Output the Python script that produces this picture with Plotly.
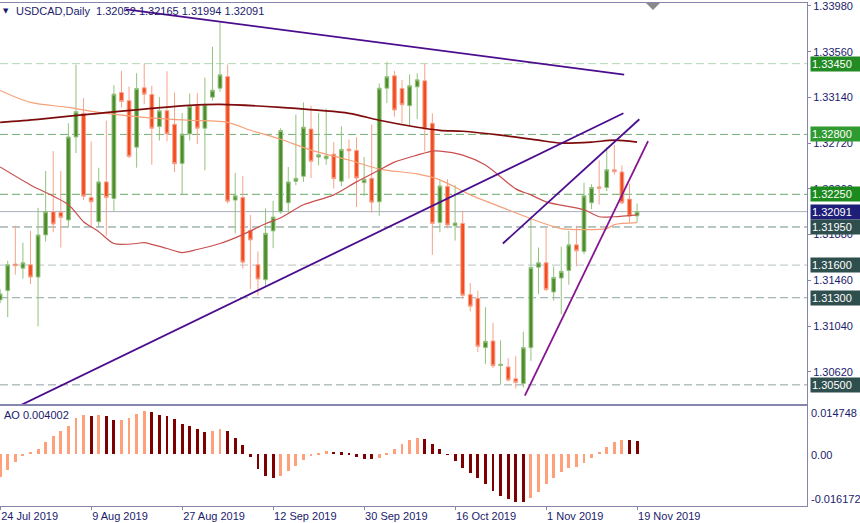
import plotly.graph_objects as go
import pandas as pd

# ---------------- data ----------------
dates = pd.bdate_range("2019-07-24", "2019-11-19")  # 85 daily bars

open_ = [1.31280, 1.31366, 1.31609, 1.31572, 1.31603, 1.31490, 1.31877, 1.32090, 1.32083, 1.32014,
         1.32777, 1.32994, 1.32220, 1.31998, 1.32364, 1.32211, 1.33185, 1.33110, 1.32683, 1.33228,
         1.33167, 1.32872, 1.33018, 1.32893, 1.32534, 1.32805, 1.33064, 1.32857, 1.33142, 1.33225,
         1.33331, 1.32197, 1.32220, 1.31919, 1.31603, 1.31466, 1.31914, 1.32090, 1.32172, 1.32370,
         1.32416, 1.32850, 1.32592, 1.32576, 1.32619, 1.32370, 1.32665, 1.32653, 1.32357, 1.32397,
         1.32181, 1.33225, 1.33338, 1.33222, 1.33064, 1.33237, 1.33292, 1.32902, 1.31992, 1.32324,
         1.31962, 1.31983, 1.31329, 1.31295, 1.30842, 1.30903, 1.30677, 1.30665, 1.30556, 1.30513,
         1.30842, 1.31581, 1.31621, 1.31353, 1.31481, 1.31551, 1.31786, 1.31725, 1.32172, 1.32318,
         1.32312, 1.32476, 1.32455, 1.32206, 1.32052]
high = [1.31378, 1.31640, 1.31962, 1.31807, 1.31914, 1.32126, 1.32464, 1.32647, 1.32464, 1.32902,
        1.33441, 1.33133, 1.32735, 1.32494, 1.32927, 1.33252, 1.33383, 1.33240, 1.33362, 1.33450,
        1.33247, 1.33142, 1.33380, 1.33185, 1.32996, 1.33176, 1.33179, 1.33322, 1.33605, 1.33843,
        1.33441, 1.32446, 1.32418, 1.32060, 1.31725, 1.32120, 1.32190, 1.32857, 1.32501, 1.32982,
        1.33094, 1.33064, 1.32996, 1.33039, 1.32729, 1.32875, 1.32753, 1.32774, 1.32592, 1.32890,
        1.33267, 1.33466, 1.33383, 1.33301, 1.33352, 1.33362, 1.33450, 1.32994, 1.32379, 1.32388,
        1.32334, 1.32099, 1.31435, 1.31366, 1.31213, 1.31070, 1.30909, 1.30745, 1.30763, 1.30988,
        1.32044, 1.31761, 1.31944, 1.31588, 1.31770, 1.31914, 1.31962, 1.32357, 1.32343, 1.32562,
        1.32683, 1.32704, 1.32516, 1.32348, 1.32165]
low = [1.31250, 1.31122, 1.31512, 1.31475, 1.31426, 1.31037, 1.31816, 1.31901, 1.31761, 1.31944,
       1.32628, 1.32197, 1.31953, 1.31953, 1.31868, 1.32096, 1.33048, 1.32583, 1.32494, 1.33079,
       1.32522, 1.32744, 1.32738, 1.32455, 1.32242, 1.32744, 1.32713, 1.32470, 1.33110, 1.33192,
       1.32166, 1.31892, 1.31567, 1.31380, 1.31320, 1.31405, 1.31755, 1.32071, 1.32081, 1.32334,
       1.32364, 1.32400, 1.32516, 1.32522, 1.32302, 1.32324, 1.32394, 1.32133, 1.32236, 1.32083,
       1.32053, 1.33088, 1.32963, 1.32905, 1.32881, 1.32942, 1.32644, 1.31694, 1.31901, 1.31937,
       1.31825, 1.31293, 1.31174, 1.30802, 1.30690, 1.30654, 1.30501, 1.30531, 1.30467, 1.30476,
       1.30720, 1.31335, 1.31359, 1.31274, 1.31147, 1.31420, 1.31588, 1.31700, 1.32114, 1.32156,
       1.32279, 1.32430, 1.32156, 1.31992, 1.31994]
close = [1.31335, 1.31603, 1.31594, 1.31621, 1.31490, 1.31877, 1.32090, 1.31977, 1.32038, 1.32777,
         1.33009, 1.32233, 1.32181, 1.32364, 1.32220, 1.33170, 1.33103, 1.32598, 1.33222, 1.33170,
         1.32857, 1.33018, 1.32805, 1.32531, 1.32802, 1.33058, 1.32857, 1.33076, 1.33206, 1.33347,
         1.32187, 1.32236, 1.31627, 1.31831, 1.31472, 1.31892, 1.32041, 1.32836, 1.32364, 1.32397,
         1.32866, 1.32553, 1.32613, 1.32601, 1.32394, 1.32662, 1.32649, 1.32400, 1.32388, 1.32178,
         1.33225, 1.33331, 1.33024, 1.33073, 1.33247, 1.33301, 1.32850, 1.31983, 1.32327, 1.31968,
         1.31987, 1.31323, 1.31222, 1.30854, 1.30900, 1.30675, 1.30690, 1.30544, 1.30522, 1.30842,
         1.31578, 1.31621, 1.31375, 1.31487, 1.31542, 1.31786, 1.31731, 1.32236, 1.32312, 1.32306,
         1.32476, 1.32458, 1.32172, 1.32050, 1.32091]

# moving averages (sampled at bar indices)
ma_slow_idx = [0, 5, 13, 25, 29, 37, 46, 50, 55, 58, 61, 66, 71, 74, 78, 81, 84]
ma_slow_val = [1.32911, 1.32939, 1.32994, 1.33067, 1.33076, 1.33048, 1.32994, 1.32930, 1.32866,
               1.32838, 1.32829, 1.32793, 1.32747, 1.32720, 1.32729, 1.32747, 1.32729]
ma_mid_idx = [0, 4, 9, 13, 19, 25, 30, 33, 37, 41, 46, 50, 55, 58, 62, 66, 70, 74, 77, 80, 81, 84]
ma_mid_val = [1.33204, 1.33094, 1.33048, 1.33003, 1.32957, 1.32930, 1.32911, 1.32838, 1.32756,
              1.32656, 1.32565, 1.32482, 1.32437, 1.32382, 1.32245, 1.32135, 1.32026, 1.31935,
              1.31925, 1.31935, 1.31971, 1.31989]
ma_fast_idx = [0, 4, 9, 11, 13, 15, 18, 19, 22, 24, 26, 29, 32, 35, 37, 40, 44, 47, 50, 52, 55,
               57, 58, 61, 64, 68, 70, 72, 77, 79, 81, 84]
ma_fast_val = [1.32501, 1.32336, 1.32154, 1.31998, 1.31907, 1.31798, 1.31798, 1.31807, 1.31752,
               1.31715, 1.31743, 1.31798, 1.31880, 1.31980, 1.32035, 1.32154, 1.32245, 1.32364,
               1.32473, 1.32546, 1.32610, 1.32647, 1.32647, 1.32610, 1.32519, 1.32300, 1.32245,
               1.32181, 1.32108, 1.32044, 1.32044, 1.32062]

# trend lines: (start index, end index), (start price, end price)
trend_support_x = [0, 82.2]
trend_support_y = [1.30222, 1.32994]
trend_resist_x = [16.6, 82.3]
trend_resist_y = [1.33948, 1.33350]
trend_channel_x = [66.3, 84.3]
trend_channel_y = [1.31798, 1.32939]
trend_steep_x = [69.2, 85.45]
trend_steep_y = [1.30401, 1.32738]

# horizontal levels
levels = [1.33450, 1.32800, 1.32250, 1.31950, 1.31600, 1.31300, 1.30500]
level_line_colors = ["#b3d9b3", "#74b074", "#66a866", "#6f8f88", "#b9c2c2", "#8da3a3", "#90a0a0"]
level_box_colors = ["#238b23", "#2f9a2f", "#1c8a1c", "#2f4f4f", "#2f4f4f", "#2f4f4f", "#2f4f4f"]

price_ticks = [1.33980, 1.33560, 1.33140, 1.32720, 1.32300, 1.31880, 1.31460, 1.31040, 1.30620]

# Awesome Oscillator
ao = [-0.00662, -0.00467, -0.00224, -0.00049, 0.00068, 0.00165, 0.00360, 0.00525, 0.00671, 0.00817,
      0.01061, 0.01138, 0.01132, 0.01140, 0.01119, 0.01012, 0.01016, 0.01070, 0.01168, 0.01265,
      0.01236, 0.01158, 0.01119, 0.01041, 0.00876, 0.00827, 0.00749, 0.00652, 0.00671, 0.00749,
      0.00671, 0.00487, 0.00282, -0.00078, -0.00438, -0.00642, -0.00691, -0.00642, -0.00496, -0.00341,
      -0.00175, -0.00029, 0.00010, 0.00088, 0.00068, 0.00058, 0.00019, -0.00078, -0.00126, -0.00128,
      -0.00097, 0.00019, 0.00146, 0.00292, 0.00409, 0.00487, 0.00457, 0.00311, 0.00146, -0.00019,
      -0.00195, -0.00418, -0.00564, -0.00710, -0.00876, -0.01070, -0.01216, -0.01314, -0.01391, -0.01401,
      -0.01275, -0.01099, -0.00885, -0.00691, -0.00516, -0.00418, -0.00370, -0.00272, -0.00107, 0.00068,
      0.00214, 0.00360, 0.00418, 0.00414, 0.004002]
ao_max_label = 0.014748
ao_min_label = -0.016172

tick_idx = [0, 12, 24, 36, 48, 60, 72, 84]

# ---------------- figure ----------------
FONT = "Liberation Sans"
TXT = "#1b1b6b"
AXC = "#8585ad"
x = list(range(len(dates)))

fig = go.Figure()

fig.add_trace(go.Candlestick(
    x=x, open=open_, high=high, low=low, close=close, xaxis="x", yaxis="y",
    increasing=dict(line=dict(color="#93c27d", width=1), fillcolor="#4e8c2c"),
    decreasing=dict(line=dict(color="#f7a28a", width=1), fillcolor="#f24c21"),
    whiskerwidth=0, showlegend=False, hoverinfo="skip"))

fig.add_trace(go.Scatter(x=ma_mid_idx, y=ma_mid_val, mode="lines", xaxis="x", yaxis="y",
                         line=dict(color="#f5a078", width=1.2, shape="spline", smoothing=0.8),
                         showlegend=False, hoverinfo="skip"))
fig.add_trace(go.Scatter(x=ma_fast_idx, y=ma_fast_val, mode="lines", xaxis="x", yaxis="y",
                         line=dict(color="#c94f4f", width=1.2, shape="spline", smoothing=0.8),
                         showlegend=False, hoverinfo="skip"))
fig.add_trace(go.Scatter(x=ma_slow_idx, y=ma_slow_val, mode="lines", xaxis="x", yaxis="y",
                         line=dict(color="#7f0c0c", width=1.7, shape="spline", smoothing=0.8),
                         showlegend=False, hoverinfo="skip"))

for tx, ty, col in [(trend_support_x, trend_support_y, "#4b0c8e"),
                    (trend_resist_x, trend_resist_y, "#4b0c8e"),
                    (trend_channel_x, trend_channel_y, "#4b0c8e"),
                    (trend_steep_x, trend_steep_y, "#85158f")]:
    fig.add_trace(go.Scatter(x=tx, y=ty, mode="lines", xaxis="x", yaxis="y",
                             line=dict(color=col, width=1.8), showlegend=False, hoverinfo="skip"))

ao_colors = ["#ffa07a" if i == 0 or ao[i] > ao[i - 1] else "#7f0000" for i in range(len(ao))]
fig.add_trace(go.Bar(x=x, y=ao, xaxis="x2", yaxis="y2", marker=dict(color=ao_colors, line=dict(width=0)),
                     width=0.38, showlegend=False, hoverinfo="skip"))

shapes = []
for lv, lc in zip(levels, level_line_colors):
    shapes.append(dict(type="line", xref="paper", x0=0, x1=1, yref="y", y0=lv, y1=lv, layer="below",
                       line=dict(color=lc, width=1, dash="8px,4px")))
# current price line
shapes.append(dict(type="line", xref="paper", x0=0, x1=1, yref="y", y0=close[-1], y1=close[-1],
                   layer="below", line=dict(color="#a9b0bb", width=1)))
# chart shift marker
shapes.append(dict(type="path", xref="paper", yref="paper",
                   path="M 0.8005 1 L 0.8178 1 L 0.8092 0.986 Z",
                   fillcolor="#8a8a8a", line=dict(width=0)))

annotations = []
all_levels = levels[:3] + [close[-1]] + levels[3:]
all_boxes = level_box_colors[:3] + ["#1e1e78"] + level_box_colors[3:]
for lv, bc in zip(all_levels, all_boxes):
    annotations.append(dict(xref="paper", x=1.004, xanchor="left", yref="y", y=lv, yanchor="middle",
                            text=f"{lv:.5f}", showarrow=False, bgcolor=bc, borderpad=1,
                            width=48, align="left",
                            font=dict(family=FONT, size=11, color="white")))

PH = 506  # plot height in px
annotations.append(dict(xref="paper", yref="paper", x=14 / 807, y=(PH - 8) / PH, xanchor="left",
                        yanchor="middle", showarrow=False,
                        text=f"USDCAD,Daily&nbsp; {open_[-1]:.5f} {high[-1]:.5f} {low[-1]:.5f} {close[-1]:.5f}",
                        font=dict(family=FONT, size=11, color=TXT)))
annotations.append(dict(xref="paper", yref="paper", x=6 / 807, y=(PH - 8) / PH, xanchor="center",
                        yanchor="middle", showarrow=False, text="▼",
                        font=dict(family="DejaVu Sans", size=7, color=TXT)))
annotations.append(dict(xref="paper", yref="paper", x=2 / 807, y=(PH - 414) / PH, xanchor="left",
                        yanchor="middle", showarrow=False, text=f"AO {ao[-1]:.6f}",
                        font=dict(family=FONT, size=11, color=TXT)))
for txt, py in [(f"{ao_max_label:.6f}", 412), ("0.00", 455), (f"{ao_min_label:.6f}", 499)]:
    annotations.append(dict(xref="paper", yref="paper", x=809 / 807, y=(PH - py) / PH, xanchor="left",
                            yanchor="middle", showarrow=False, text=txt,
                            font=dict(family=FONT, size=11, color=TXT)))

split = (PH - 404.5) / PH
xr = [-0.02, 106.41]

fig.update_layout(
    width=860, height=523,
    margin=dict(l=0, r=53, t=0, b=17),
    paper_bgcolor="white", plot_bgcolor="white",
    font=dict(family=FONT, size=11, color=TXT),
    showlegend=False,
    shapes=shapes, annotations=annotations,
    xaxis=dict(domain=[0, 1], anchor="y", range=xr, showticklabels=False, showgrid=False,
               zeroline=False, showline=True, mirror=True, linecolor=AXC, linewidth=1,
               rangeslider=dict(visible=False), ticks="", matches="x2"),
    yaxis=dict(domain=[split, 1], anchor="x", side="right", range=[1.30314, 1.34007],
               tickmode="array", tickvals=price_ticks, ticktext=[f"{v:.5f}" for v in price_ticks],
               ticks="outside", ticklen=3, tickcolor=AXC, showgrid=False, zeroline=False,
               showline=True, linecolor=AXC, linewidth=1, ticklabeloverflow="allow",
               tickfont=dict(family=FONT, size=11, color=TXT)),
    xaxis2=dict(domain=[0, 1], anchor="y2", range=xr, tickmode="array", tickvals=tick_idx,
                ticktext=[f"{dates[i].day} {dates[i].strftime('%b %Y')}" for i in tick_idx],
                ticklabelposition="outside right", ticks="outside", ticklen=3, tickcolor=AXC,
                showgrid=False, zeroline=False, showline=True, mirror=True, linecolor=AXC,
                linewidth=1, tickfont=dict(family=FONT, size=11, color=TXT)),
    yaxis2=dict(domain=[0, split], anchor="x2", side="right", range=[-0.015184, 0.014454],
                showticklabels=False, ticks="", showgrid=False, zeroline=False,
                showline=True, linecolor=AXC, linewidth=1),
    bargap=0,
)

fig.write_html("out.html", config={"displayModeBar": False},
               post_script="document.body.style.margin='0px';document.body.style.padding='0px';"
                           "document.body.style.overflow='hidden';")
